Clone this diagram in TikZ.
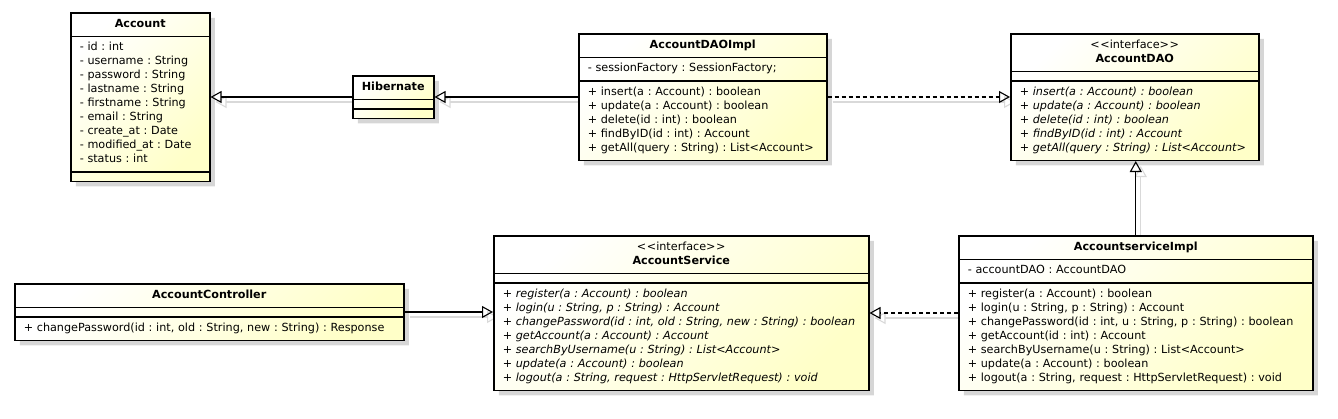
\documentclass[tikz,border=0pt]{standalone}
\usepackage{fontspec}
\setmainfont{DejaVu Sans}
\frenchspacing
\usetikzlibrary{arrows.meta,shapes.multipart,shadows,backgrounds}

\definecolor{umlyellow}{RGB}{255,255,200}

\newcommand{\stereo}{<\kern0.6pt<interface>\kern0.6pt>}

\tikzset{
  umlclass/.style={rectangle split, rectangle split parts=3,
    rectangle split ignore empty parts=false,
    draw, line width=1.5pt, anchor=north west,
    top color=white, bottom color=umlyellow, shading angle=45,
    drop shadow={shadow xshift=5pt, shadow yshift=-5pt, fill=black!16, opacity=1},
    inner xsep=9pt, inner ysep=4pt, align=left,
    font=\fontsize{11.2}{14}\selectfont},
  gen/.style={line width=1.1pt, -{Triangle[open, length=11pt, width=12pt]}},
  real/.style={gen, dash pattern=on 4pt off 3pt},
  lineshadow/.style={gen, draw=black!15, solid, transform canvas={shift={(5pt,-5pt)}}}
}

\begin{document}
\begin{tikzpicture}[x=1pt, y=-1pt]
  \useasboundingbox (0,0) rectangle (1338,418);

  % --- top row: entity and DAO layer ---
  \node[umlclass, text width=121pt] (account) at (70,12) {%
    \centering\strut\textbf{Account}\strut\par
    \nodepart{two}\strut- id : int\\
    - username : String\\
    - password : String\\
    - lastname : String\\
    - firstname : String\\
    - email : String\\
    - create\_at : Date\\
    - modified\_at : Date\\
    - status : int\strut
    \nodepart{three}};
  \node[umlclass, text width=63pt] (hib) at (352,75) {%
    \centering\strut\textbf{Hibernate}\strut\par
    \nodepart{two}\nodepart{three}};
  \node[umlclass, text width=230pt] (daoimpl) at (578,33) {%
    \centering\strut\textbf{AccountDAOImpl}\strut\par
    \nodepart{two}\strut- sessionFactory : SessionFactory;\strut
    \nodepart{three}\strut+ insert(a : Account) : boolean\\
    + update(a : Account) : boolean\\
    + delete(id : int) : boolean\\
    + findByID(id : int) : Account\\
    + getAll(query : String) : List<Account>\strut};
  \node[umlclass, text width=230pt] (dao) at (1010,33) {%
    \centering\strut\stereo\\
    \textbf{AccountDAO}\strut\par
    \nodepart{two}
    \nodepart{three}\itshape\strut+ insert(a : Account) : boolean\\
    + update(a : Account) : boolean\\
    + delete(id : int) : boolean\\
    + findByID(id : int) : Account\\
    + getAll(query : String) : List<Account>\strut};

  % --- bottom row: controller and service layer ---
  \node[umlclass, text width=371pt] (ctrl) at (14,283) {%
    \centering\strut\textbf{AccountController}\strut\par
    \nodepart{two}
    \nodepart{three}\strut+ changePassword(id : int, old : String, new : String) : Response\strut};
  \node[umlclass, text width=357pt] (svc) at (493,235) {%
    \centering\strut\stereo\\
    \textbf{AccountService}\strut\par
    \nodepart{two}
    \nodepart{three}\itshape\strut+ register(a : Account) : boolean\\
    + login(u : String, p : String) : Account\\
    + changePassword(id : int, old : String, new : String) : boolean\\
    + getAccount(a : Account) : Account\\
    + searchByUsername(u : String) : List<Account>\\
    + update(a : Account) : boolean\\
    + logout(a : String, request : HttpServletRequest) : void\strut};
  \node[umlclass, text width=336pt] (svcimpl) at (958,235) {%
    \centering\strut\textbf{AccountserviceImpl}\strut\par
    \nodepart{two}\strut- accountDAO : AccountDAO\strut
    \nodepart{three}\strut+ register(a : Account) : boolean\\
    + login(u : String, p : String) : Account\\
    + changePassword(id : int, u : String, p : String) : boolean\\
    + getAccount(id : int) : Account\\
    + searchByUsername(u : String) : List<Account>\\
    + update(a : Account) : boolean\\
    + logout(a : String, request : HttpServletRequest) : void\strut};

  % --- relations ---
  \draw[gen] (hib.west) -- (hib.west -| account.east);
  \draw[gen] (daoimpl.west) -- (daoimpl.west -| hib.east);
  \draw[real] (daoimpl.east) -- (daoimpl.east -| dao.west);
  \draw[gen] (svcimpl.north) -- (svcimpl.north |- dao.south);
  \draw[gen] (ctrl.east) -- (ctrl.east -| svc.west);
  \draw[real] (svcimpl.west) -- (svcimpl.west -| svc.east);

  \begin{scope}[on background layer]
    \draw[lineshadow] (hib.west) -- (hib.west -| account.east);
    \draw[lineshadow] (daoimpl.west) -- (daoimpl.west -| hib.east);
    \draw[lineshadow] (daoimpl.east) -- (daoimpl.east -| dao.west);
    \draw[lineshadow] (svcimpl.north) -- (svcimpl.north |- dao.south);
    \draw[lineshadow] (ctrl.east) -- (ctrl.east -| svc.west);
    \draw[lineshadow] (svcimpl.west) -- (svcimpl.west -| svc.east);
  \end{scope}
\end{tikzpicture}
\end{document}
